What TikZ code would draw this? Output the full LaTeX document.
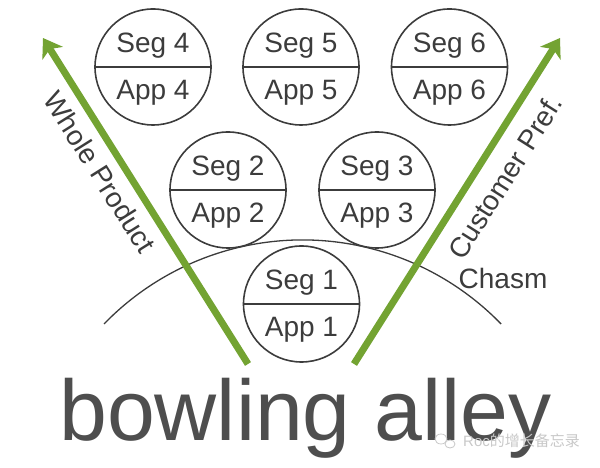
\documentclass[tikz,border=0pt]{standalone}
\usepackage{fontspec}
\setmainfont{Liberation Sans}
\newfontfamily\cjkfont{Noto Sans CJK SC}
\usetikzlibrary{arrows.meta}
\definecolor{arrowgreen}{RGB}{115,163,50}
\definecolor{inkgray}{RGB}{60,60,60}
\definecolor{biggray}{RGB}{78,78,78}
\definecolor{wmgray}{RGB}{200,200,200}
\tikzset{
  segcircle/.style={circle, draw=inkgray, line width=1.6pt, minimum size=116pt, inner sep=0pt},
  lbl/.style={text=inkgray, font=\fontsize{28}{32}\selectfont, inner sep=0pt, anchor=base},
  greenarrow/.style={draw=arrowgreen, line width=7pt, -{Stealth[length=18pt,width=24pt,inset=5pt]}},
}
\newcommand{\segapp}[3]{%
  \node[segcircle] (c#1) at (#2,#3) {};
  \draw[inkgray, line width=1.4pt] (c#1.west) -- (c#1.east);
  \node[lbl] (s#1) at (#2,#3+14) {Seg #1};
  \node[lbl] (a#1) at (#2,#3-33) {App #1};
}
\begin{document}
\begin{tikzpicture}[x=1pt,y=1pt]
\useasboundingbox (0,0) rectangle (600,468);
% chasm arc
\coordinate (chasmL) at (104,144);
\draw[inkgray, line width=1.3pt] (chasmL) arc[start angle=135.9, end angle=44.1, radius=276.5] coordinate (chasmR);
% circles
\segapp{4}{153}{401}
\segapp{5}{301}{401}
\segapp{6}{449.5}{401}
\segapp{2}{228}{278}
\segapp{3}{377}{278}
\segapp{1}{301.5}{164}
% arrows
\coordinate (lstart) at (248,104);
\coordinate (ltip) at (43,430);
\coordinate (rstart) at (354,104);
\coordinate (rtip) at (560,430);
\draw[greenarrow] (lstart) -- (ltip);
\draw[greenarrow] (rstart) -- (rtip);
% labels
\node[text=inkgray, font=\fontsize{28}{32}\selectfont, rotate=-57.8] (whole) at (100,296) {Whole Product};
\node[text=inkgray, font=\fontsize{28}{32}\selectfont, rotate=57.7] (cust) at (505,291) {Customer Pref.};
\node[text=inkgray, font=\fontsize{28}{32}\selectfont] (chasm) at (503,190) {Chasm};
% big title
\node[text=biggray, font=\fontsize{86}{92}\selectfont, inner sep=0pt, anchor=base west] (title) at (59,27) {bowling alley};
% watermark
\draw[wmgray, line width=0.8pt] (441,29) ellipse[x radius=6pt, y radius=5pt];
\draw[wmgray, line width=0.8pt] (450,24) ellipse[x radius=5pt, y radius=4pt];
\node[text=wmgray, font=\fontsize{15}{18}\selectfont, anchor=west, inner sep=0pt] (wm) at (463,27) {Roc{\cjkfont 的增长备忘录}};
\end{tikzpicture}
\end{document}
